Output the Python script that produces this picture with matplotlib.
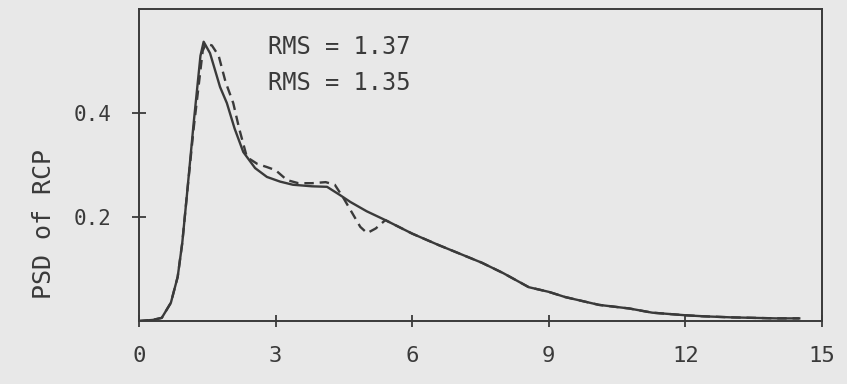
import matplotlib
matplotlib.use("Agg")
from matplotlib import pyplot as plt

# data
x_head_solid = [0, 0.3, 0.5, 0.7, 0.85, 0.95, 1.05, 1.2, 1.35, 1.42, 1.56, 1.78, 1.93,
                2.1, 2.29, 2.55, 2.81, 3.1, 3.38, 3.8, 4.13, 4.4, 4.64, 5.0]
y_head_solid = [0, 0.002, 0.006, 0.035, 0.085, 0.15, 0.24, 0.38, 0.51, 0.537, 0.515, 0.45, 0.419,
                0.37, 0.325, 0.294, 0.277, 0.268, 0.262, 0.259, 0.258, 0.243, 0.229, 0.211]

x_head_dash = [0, 0.3, 0.5, 0.7, 0.85, 0.95, 1.05, 1.2, 1.4, 1.47, 1.6, 1.75, 1.9,
               2.07, 2.2, 2.37, 2.6, 2.81, 3.0, 3.25, 3.5, 3.8, 4.1, 4.3, 4.48, 4.7,
               4.86, 5.01, 5.2]
y_head_dash = [0, 0.002, 0.006, 0.035, 0.085, 0.15, 0.24, 0.37, 0.52, 0.533, 0.53, 0.51, 0.46,
               0.419, 0.37, 0.315, 0.302, 0.296, 0.29, 0.271, 0.265, 0.265, 0.267, 0.262, 0.238, 0.205,
               0.181, 0.169, 0.178]

# both curves run together after x ~ 5.4
x_tail = [5.41, 6.0, 6.58, 7.0, 7.53, 8.0, 8.56, 9.0, 9.36, 10.1, 10.77, 11.27, 12.0, 12.4,
          13.0, 13.5, 14.0, 14.5]
y_tail = [0.194, 0.168, 0.146, 0.131, 0.112, 0.092, 0.065, 0.056, 0.046, 0.031, 0.024, 0.016,
          0.011, 0.009, 0.007, 0.006, 0.005, 0.005]

rms_labels = ["RMS = 1.37", "RMS = 1.35"]
x_ticks = [0, 3, 6, 9, 12, 15]
y_ticks = [0.2, 0.4]

bg = "#e8e8e8"
ink = "#3a3a3a"
font = "DejaVu Sans Mono"

fig = plt.figure(figsize=(8.47, 3.84), dpi=100, facecolor=bg)
ax = fig.add_axes([0.1641, 0.1641, 0.8064, 0.8125], facecolor=bg)

ax.plot(x_head_solid + x_tail, y_head_solid + y_tail, color=ink, lw=1.7)
ax.plot(x_head_dash + x_tail, y_head_dash + y_tail, color=ink, lw=1.7,
        linestyle=(0, (4, 2.5)))

ax.set_xlim(0, 15)
ax.set_ylim(0, 0.6)
ax.set_xticks(x_ticks)
ax.set_xticklabels([str(t) for t in x_ticks], family=font, fontsize=16, color=ink)
ax.set_yticks(y_ticks)
ax.set_yticklabels(["%.1f" % t for t in y_ticks], family=font, fontsize=15, color=ink)
ax.tick_params(axis="x", direction="inout", length=8, width=1.3, color=ink, pad=14)
ax.tick_params(axis="y", direction="inout", length=10, width=1.3, color=ink, pad=15)
for s in ax.spines.values():
    s.set_color(ink)
    s.set_linewidth(1.4)

ax.set_ylabel("PSD of RCP", family=font, fontsize=18, color=ink)
ax.yaxis.set_label_coords(-0.121, 0.31)

ax.text(2.83, 0.527, rms_labels[0], family=font, fontsize=17, color=ink, va="center")
ax.text(2.83, 0.458, rms_labels[1], family=font, fontsize=17, color=ink, va="center")

fig.savefig("out.png", dpi=100, facecolor=bg)
